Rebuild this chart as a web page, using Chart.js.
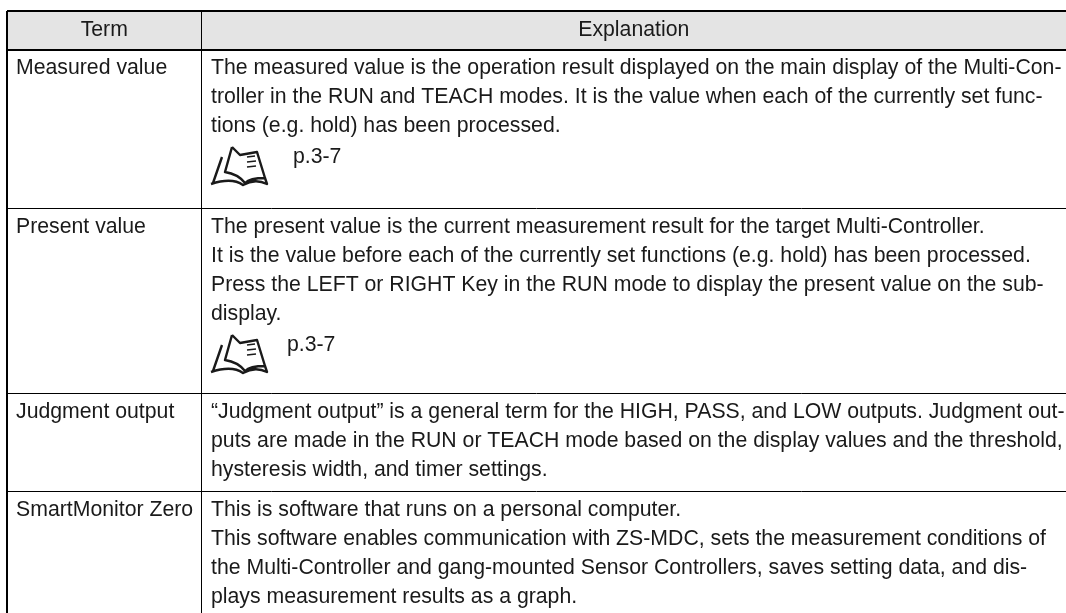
<!DOCTYPE html>
<html>
<head>
<title>Terms</title>
<style>
html, body {
  margin:0px;
  background:#fff;
}
canvas { display:block; }
</style>
<script src="https://cdn.jsdelivr.net/npm/chart.js@4/dist/chart.umd.js"></script>
</head>
<body>
<canvas id="myChart" width="1066" height="613"></canvas>
<script>
const headers = ["Term", "Explanation"];
const terms = ["Measured value", "Present value", "Judgment output", "SmartMonitor Zero"];
const explanations = [
  ["The measured value is the operation result displayed on the main display of the Multi-Con-",
   "troller in the RUN and TEACH modes. It is the value when each of the currently set func-",
   "tions (e.g. hold) has been processed."],
  ["The present value is the current measurement result for the target Multi-Controller.",
   "It is the value before each of the currently set functions (e.g. hold) has been processed.",
   "Press the LEFT or RIGHT Key in the RUN mode to display the present value on the sub-",
   "display."],
  ["\u201CJudgment output\u201D is a general term for the HIGH, PASS, and LOW outputs. Judgment out-",
   "puts are made in the RUN or TEACH mode based on the display values and the threshold,",
   "hysteresis width, and timer settings."],
  ["This is software that runs on a personal computer.",
   "This software enables communication with ZS-MDC, sets the measurement conditions of",
   "the Multi-Controller and gang-mounted Sensor Controllers, saves setting data, and dis-",
   "plays measurement results as a graph."]
];
const pageRefs = ["p.3-7", "p.3-7", "", ""];

// rules of the table, counted from its top left corner
const columnRules = [0, 194.5];
const rowRules = [0, 39, 197, 382, 480];
const thickRows = [0, 39];

// the little book icon, origin at its top left corner
function drawBook(c, x, y) {
  c.save();
  c.translate(x, y);
  c.strokeStyle = "#1a1a1a";
  c.lineWidth = 2.4;
  c.lineJoin = "round";
  c.beginPath();
  c.moveTo(3, 36); c.lineTo(12, 10);
  c.moveTo(22, 0); c.lineTo(15, 25); c.quadraticCurveTo(28, 27, 35, 36);
  c.quadraticCurveTo(40, 31, 55, 31);
  c.lineTo(47, 5); c.lineTo(30, 8); c.lineTo(22, 0);
  c.moveTo(1, 37); c.quadraticCurveTo(22, 30, 33, 38); c.quadraticCurveTo(45, 31, 57, 37); c.lineTo(55, 31);
  c.stroke();
  c.lineWidth = 1.6;
  c.beginPath();
  c.moveTo(37, 10); c.lineTo(45, 9);
  c.moveTo(37, 15); c.lineTo(46, 14);
  c.moveTo(37, 20); c.lineTo(46, 19);
  c.stroke();
  c.restore();
}

const tableText = {
  id: "tableText",
  afterDraw(chart) {
    const c = chart.ctx, x = chart.scales.x, y = chart.scales.y;
    c.save();
    c.fillStyle = "#1a1a1a";
    c.font = '21.25px "Liberation Sans"';
    c.textBaseline = "alphabetic";
    c.textAlign = "center";
    c.fillText(headers[0], (x.getPixelForValue(columnRules[0]) + x.getPixelForValue(columnRules[1])) / 2, y.getPixelForValue(25));
    c.fillText(headers[1], (x.getPixelForValue(columnRules[1]) + x.right) / 2, y.getPixelForValue(25));
    c.textAlign = "left";
    terms.forEach((term, i) => {
      const top = rowRules[i + 1];
      const first = top + 24 + (i > 0 ? 1 : 0);
      c.fillText(term, x.getPixelForValue(9), y.getPixelForValue(first));
      explanations[i].forEach((line, j) => {
        c.fillText(line, x.getPixelForValue(204), y.getPixelForValue(first + j * 29));
      });
      if (pageRefs[i]) {
        const n = explanations[i].length;
        const refY = first + n * 29 + 2;
        c.fillText(pageRefs[i], x.getPixelForValue(i === 0 ? 286 : 280), y.getPixelForValue(refY));
        drawBook(c, x.getPixelForValue(203), y.getPixelForValue(refY - 16));
      }
    });
    c.restore();
  }
};

const ctx = document.getElementById("myChart");
const myChart = new Chart(ctx, {
  type: "line",
  data: {
    datasets: [{ // grey band of the header row
      data: [{x: rowRules[0], y: rowRules[0]}, {x: 1059, y: rowRules[0]}],
      fill: {value: rowRules[1]},
      backgroundColor: "#e4e4e4",
      borderWidth: 0,
      pointRadius: 0
    }]
  },
  plugins: [tableText],
  options: {
    responsive: false,
    animation: false,
    layout: {padding: {left: 7, top: 11}},
    plugins: {legend: {display: false}, tooltip: {enabled: false}},
    scales: {
      x: {
        type: "linear", min: 0, max: 1059,
        afterBuildTicks(s) { s.ticks = columnRules.map(v => ({value: v})); },
        ticks: {display: false, autoSkip: false},
        border: {display: false},
        grid: {z: 1, color: "#000", drawTicks: false, lineWidth: c => c.tick && c.tick.value === 0 ? 2 : 1}
      },
      y: {
        type: "linear", min: 0, max: 602, reverse: true,
        afterBuildTicks(s) { s.ticks = rowRules.map(v => ({value: v})); },
        ticks: {display: false, autoSkip: false},
        border: {display: false},
        grid: {z: 1, color: "#000", drawTicks: false, lineWidth: c => c.tick && thickRows.includes(c.tick.value) ? 2 : 1}
      }
    }
  }
});
</script>
</body>
</html>
